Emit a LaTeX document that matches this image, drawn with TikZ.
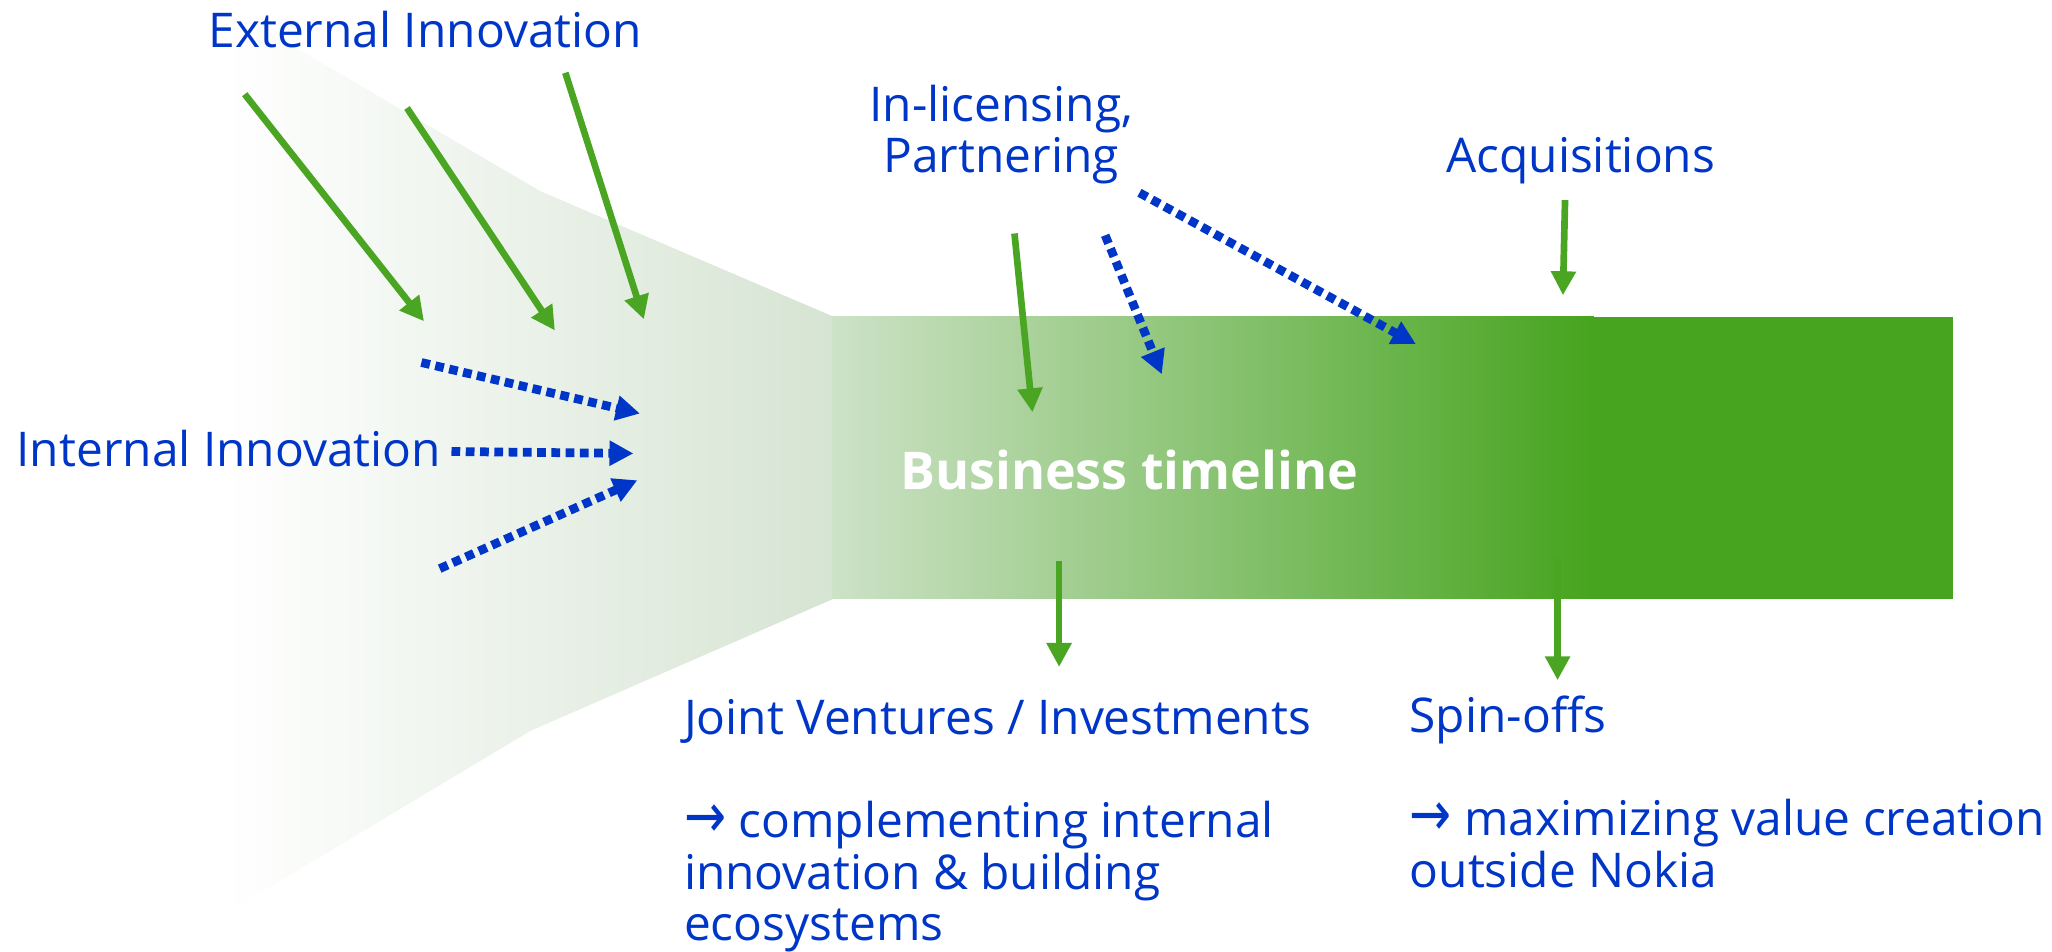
\documentclass[tikz,border=0pt]{standalone}
\usepackage{fontspec}
\setmainfont{Open Sans}[Ligatures=NoCommon]
\newfontfamily\arrowfont{DejaVu Sans}
\usetikzlibrary{positioning, arrows.meta}
\definecolor{nokiablue}{HTML}{0036C8}
\definecolor{leafgreen}{HTML}{4AA523}
\definecolor{stemgreen}{HTML}{46A41E}
\definecolor{palegreen}{HTML}{CDE2C7}
\definecolor{mistgreen}{HTML}{D6E4D3}
\newcommand{\nextarrow}{\scalebox{1.05}[1.3]{\arrowfont →}}

\begin{document}
\begin{tikzpicture}[
        x=0.01cm, y=-0.01cm, % picture units, y downwards
        >={Triangle[length=5.2pt, width=5.2pt]},
        txt/.style={font=\fontsize{10.4}{11.2}\selectfont, text=nokiablue, inner sep=0pt, anchor=base west},
        bigtxt/.style={font=\fontsize{11.3}{12}\selectfont\bfseries, text=white, inner sep=0pt, anchor=base west},
        inflow/.style={draw=leafgreen, line width=1.45pt, ->},
        dotflow/.style={draw=nokiablue, line width=1.9pt, dash pattern=on 1.9pt off 1.2pt, ->}
      ]
        \useasboundingbox (0,0) rectangle (1568,727);

        % Funnel and timeline bar
        \path[left color=white, right color=mistgreen]
            (170,3.5) -- (412.7,146) -- (637,242) -- (637,457.5) -- (405.9,558.2) -- (170,699.5) -- cycle;
        \path[left color=palegreen, right color=stemgreen] (636,242) rectangle (1218,457.5);
        \path[fill=stemgreen] (1217,242) rectangle (1492,457.5);

        % Labels (multi-line nodes sit on their last baseline)
        \node[txt] (ext_in) at (158.6,36) {External Innovation};
        \node[txt] (int_in) at (12,356.7) {Internal Innovation};
        \node[txt, align=center, anchor=base] (in_lic) at (765,132) {In-licensing,\\Partnering};
        \node[txt] (acq) at (1104.4,132) {Acquisitions};
        \node[bigtxt] (timeline) at (687.2,374.3) {Business timeline};
        \node[txt, align=left] (joint) at (522,719) {Joint Ventures / Investments\\[11.2pt]\nextarrow\ complementing internal\\innovation \& building\\ecosystems};
        \node[txt, align=left] (spin) at (1076.5,678) {Spin-offs\\[11.2pt]\nextarrow\ maximizing value creation\\outside Nokia};

        % Arrow end points
        \coordinate (ext_a1) at (187,72);      \coordinate (ext_b1) at (324,245.5);
        \coordinate (ext_a2) at (311,82.5);    \coordinate (ext_b2) at (424,252.5);
        \coordinate (ext_a3) at (432,55.6);    \coordinate (ext_b3) at (492,244);
        \coordinate (int_a1) at (322,277);     \coordinate (int_b1) at (489,316);
        \coordinate (int_a2) at (345,345);     \coordinate (int_b2) at (484,346.5);
        \coordinate (int_a3) at (336,434.5);   \coordinate (int_b3) at (487,367);
        \coordinate (lic_a1) at (775.2,178.4); \coordinate (lic_b1) at (788.9,315);
        \coordinate (lic_a2) at (844.5,179.8); \coordinate (lic_b2) at (887.8,286);
        \coordinate (lic_a3) at (870.7,147.3); \coordinate (lic_b3) at (1082,263);
        \coordinate (acq_a) at (1195.9,152.9); \coordinate (acq_b) at (1194.3,225.6);
        \coordinate (joint_a) at (809.3,428.5);\coordinate (joint_b) at (809.3,509.6);
        \coordinate (spin_a) at (1190.2,426.2);\coordinate (spin_b) at (1190.2,519.8);

        % External innovation flowing in
        \draw[inflow] (ext_a1) -- (ext_b1);
        \draw[inflow] (ext_a2) -- (ext_b2);
        \draw[inflow] (ext_a3) -- (ext_b3);

        % Internal innovation
        \draw[dotflow] (int_a1) -- (int_b1);
        \draw[dotflow] (int_a2) -- (int_b2);
        \draw[dotflow] (int_a3) -- (int_b3);

        % In-licensing, partnering
        \draw[inflow] (lic_a1) -- (lic_b1);
        \draw[dotflow] (lic_a2) -- (lic_b2);
        \draw[dotflow] (lic_a3) -- (lic_b3);

        % Acquisitions in, ventures and spin-offs out
        \draw[inflow] (acq_a) -- (acq_b);
        \draw[inflow] (joint_a) -- (joint_b);
        \draw[inflow] (spin_a) -- (spin_b);
    \end{tikzpicture}
\end{document}
